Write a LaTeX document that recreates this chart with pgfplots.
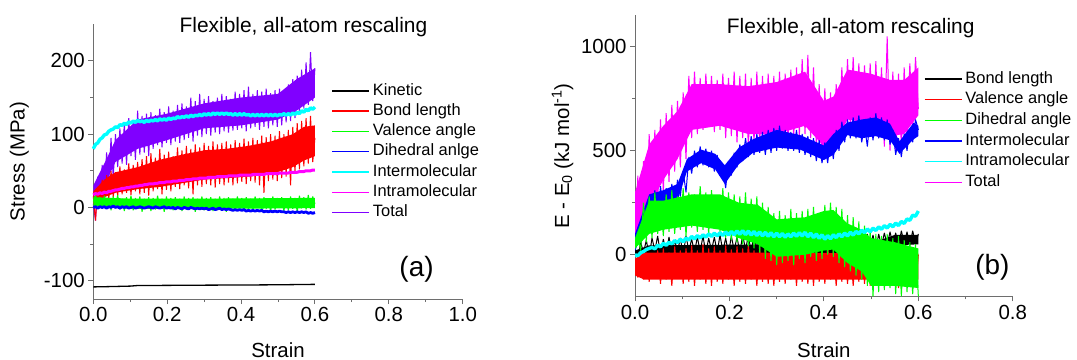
\documentclass[border=0pt]{standalone}
\usepackage{fontspec}
\setmainfont{Liberation Sans}
\usepackage{pgfplots}
\usepackage{pgfplotstable}
\pgfplotsset{compat=1.18}
\definecolor{cpurple}{HTML}{8000FF}
\definecolor{cred}{HTML}{FF0000}
\definecolor{cgreen}{HTML}{00FF00}
\definecolor{cblue}{HTML}{0000FF}
\definecolor{ccyan}{HTML}{00FFFF}
\definecolor{cmag}{HTML}{FF00FF}
\definecolor{axgray}{HTML}{6E6E6E}

% panel (a): x tot bond val dih inter intra
\pgfplotstableread{
x tot bond val dih inter intra
0.000 5 15 8 0 80 17
0.006 -18 -18 18 1 86 19
0.012 42 28 2 -1 88 18
0.018 10 2 14 1 93 20
0.024 58 38 -2 0 95 19
0.030 22 8 16 1 99 21
0.036 75 44 0 -1 100 20
0.042 35 12 13 1 104 22
0.048 95 50 -4 0 106 22
0.054 40 14 15 2 107 23
0.060 100 48 -1 0 110 24
0.066 55 16 17 1 109 24
0.072 108 56 -3 -1 113 25
0.078 60 18 12 1 112 26
0.084 115 52 -5 0 115 26
0.090 58 20 14 1 113 27
0.096 122 60 0 -1 117 27
0.102 70 17 16 0 115 28
0.108 118 58 -4 1 118 28
0.114 65 22 13 -1 116 29
0.120 132 62 -2 0 119 29
0.126 72 18 15 1 117 30
0.132 125 66 -6 0 118 30
0.138 75 20 12 -1 116 31
0.144 128 70 1 0 119 31
0.150 70 16 14 1 117 32
0.156 130 74 -5 0 119 32
0.162 80 22 13 -1 118 32
0.168 126 68 -3 1 120 33
0.174 85 25 16 0 118 33
0.180 135 80 0 -1 121 34
0.186 82 18 12 0 119 34
0.192 130 72 -6 1 121 34
0.198 88 24 15 -1 119 35
0.204 138 76 -2 0 122 35
0.210 85 22 13 -1 120 35
0.216 132 70 -4 0 122 36
0.222 90 28 14 -2 121 36
0.228 140 82 1 0 124 36
0.234 88 25 12 -1 122 37
0.240 142 78 -5 -2 124 37
0.246 92 30 15 0 123 37
0.252 138 84 -3 -1 125 38
0.258 95 26 13 -2 123 38
0.264 150 80 0 0 126 38
0.270 90 18 14 -1 124 39
0.276 145 86 -6 -2 126 39
0.282 98 30 12 -1 125 39
0.288 155 82 -2 -2 127 40
0.294 96 28 15 -1 125 40
0.300 148 88 -4 -2 128 40
0.306 100 32 13 -1 126 40
0.312 152 84 1 -3 128 41
0.318 98 30 14 -2 126 41
0.324 145 90 -5 -1 129 41
0.330 102 27 12 -3 127 41
0.336 150 86 -3 -2 129 42
0.342 100 32 15 -1 127 42
0.348 155 88 0 -3 129 42
0.354 104 30 13 -2 127 42
0.360 152 90 -6 -3 129 42
0.366 102 34 14 -2 127 43
0.372 148 86 -2 -3 128 43
0.378 105 30 12 -4 126 43
0.384 158 92 -5 -3 128 43
0.390 106 33 15 -4 126 43
0.396 155 88 1 -3 128 44
0.402 108 35 13 -4 126 44
0.408 160 94 -4 -3 128 44
0.414 104 32 14 -5 126 44
0.420 165 90 -3 -4 127 44
0.426 108 36 12 -5 125 44
0.432 155 95 -6 -4 127 45
0.438 110 34 15 -5 125 45
0.444 160 92 0 -4 127 45
0.450 106 30 13 -5 125 45
0.456 158 98 -5 -4 127 45
0.462 110 20 14 -6 125 45
0.468 162 96 -2 -5 127 46
0.474 108 36 12 -6 125 46
0.480 156 100 -6 -5 127 46
0.486 112 38 15 -6 125 46
0.492 160 98 -3 -5 127 46
0.498 110 36 13 -6 125 46
0.504 162 104 0 -5 127 47
0.510 112 40 14 -6 126 47
0.516 158 100 -5 -6 128 47
0.522 116 42 12 -7 126 47
0.528 168 106 -4 -6 128 47
0.534 118 30 15 -7 126 48
0.540 175 110 -2 -6 129 48
0.546 122 48 13 -7 127 48
0.552 180 115 -6 -6 130 48
0.558 128 52 16 -7 128 49
0.564 188 118 -1 -6 132 49
0.570 135 56 14 -7 130 49
0.576 198 122 -3 -6 134 50
0.582 140 60 17 -8 132 50
0.588 212 125 -2 -7 136 50
0.594 145 62 15 -8 134 51
0.600 190 95 5 -7 137 51
}\tabA

% panel (a): dense cores of the noisy series, outlined upper edge then lower edge
\pgfplotstableread{
x y
0.000 30
0.030 60
0.060 92
0.120 120
0.200 128
0.300 142
0.400 150
0.500 155
0.550 175
0.600 190
0.600 150
0.550 132
0.500 120
0.400 112
0.300 108
0.200 92
0.120 80
0.060 62
0.030 30
0.000 0
}\coreTotA
\pgfplotstableread{
x y
0.000 22
0.030 38
0.060 48
0.120 55
0.180 65
0.240 72
0.300 78
0.360 80
0.420 84
0.480 90
0.540 100
0.570 110
0.600 112
0.600 70
0.570 64
0.540 55
0.480 45
0.420 42
0.360 40
0.300 38
0.240 33
0.180 28
0.120 25
0.060 20
0.030 14
0.000 5
}\coreBondA
\pgfplotstableread{
x y
0.000 14
0.100 12
0.300 12
0.600 13
0.600 -1
0.300 -2
0.100 -2
0.000 2
}\coreValA

% panel (b): x bond val dih inter intra tot
\pgfplotstableread{
x bond val dih inter intra tot
0.000 20 -40 30 0 0 50
0.006 -20 -110 90 120 -5 380
0.012 60 -20 20 40 10 -30
0.018 10 -120 250 220 15 450
0.024 70 10 60 90 25 150
0.030 -10 -130 280 280 30 580
0.036 80 0 80 160 35 200
0.042 20 -100 300 310 28 600
0.048 90 20 100 180 45 260
0.054 0 -140 250 330 38 650
0.060 75 30 90 210 55 300
0.066 10 -120 290 320 45 680
0.072 85 10 110 230 60 350
0.078 5 -150 310 340 52 720
0.084 70 40 100 240 68 400
0.090 15 -110 280 360 58 740
0.096 80 20 120 280 75 420
0.102 0 -140 320 400 62 780
0.108 90 30 90 300 80 460
0.114 20 -130 300 470 70 860
0.120 75 45 130 390 88 560
0.126 10 -150 290 500 76 880
0.132 85 20 110 420 92 580
0.138 15 -120 330 520 80 850
0.144 90 50 120 430 96 600
0.150 5 -140 300 510 84 870
0.156 80 30 100 420 100 620
0.162 20 -150 310 500 88 860
0.168 85 40 130 400 104 590
0.174 10 -130 280 480 90 840
0.180 95 20 110 380 106 600
0.186 15 -140 320 420 92 870
0.192 80 45 80 320 110 560
0.198 5 -120 300 450 94 850
0.204 90 25 70 380 112 570
0.210 20 -150 290 490 96 880
0.216 85 40 60 420 114 540
0.222 10 -130 280 530 98 860
0.228 95 30 50 450 116 560
0.234 25 -140 300 560 96 870
0.240 90 50 40 470 114 520
0.246 15 -120 270 570 94 850
0.252 100 20 30 480 112 540
0.258 20 -150 280 580 92 880
0.264 85 35 10 490 110 530
0.270 10 -130 250 590 90 860
0.276 95 45 -20 480 108 520
0.282 30 -140 230 600 88 870
0.288 90 20 -30 490 106 540
0.294 20 -150 200 610 86 860
0.300 100 40 -50 500 104 520
0.306 30 -130 210 620 86 880
0.312 95 30 -40 510 102 550
0.318 15 -140 190 600 84 870
0.324 90 45 -30 500 100 540
0.330 30 -120 220 590 86 890
0.336 100 20 -50 500 104 560
0.342 20 -150 200 600 88 900
0.348 95 35 -20 490 106 570
0.354 25 -130 210 580 90 940
0.360 90 40 -40 480 108 580
0.366 15 -140 220 570 86 960
0.372 95 25 -10 470 104 560
0.378 30 -150 230 560 82 900
0.384 85 40 -30 450 100 520
0.390 10 -130 200 550 78 820
0.396 90 30 -20 440 96 480
0.402 20 -140 240 540 74 800
0.408 85 45 0 440 92 460
0.414 5 -120 250 560 76 780
0.420 90 20 -10 460 96 470
0.426 25 -150 230 600 82 820
0.432 95 35 -40 500 100 560
0.438 15 -130 220 640 86 900
0.444 90 40 -60 540 104 600
0.450 30 -140 190 650 90 940
0.456 100 25 -80 560 108 610
0.462 20 -150 180 660 94 950
0.468 95 30 -100 560 112 620
0.474 10 -130 160 670 100 920
0.480 85 45 -120 540 118 600
0.486 25 -140 140 620 106 910
0.492 100 20 -150 520 124 580
0.498 30 -150 120 660 110 920
0.504 95 35 -200 550 128 600
0.510 20 -130 100 680 116 930
0.516 100 25 -180 560 134 560
0.522 40 -140 90 660 122 900
0.528 105 30 -170 550 140 520
0.534 45 -150 100 650 128 1050
0.540 110 20 -160 530 146 500
0.546 50 -140 80 600 134 880
0.552 105 15 -190 480 152 490
0.558 40 -160 90 560 140 870
0.564 115 10 -200 470 160 520
0.570 55 -150 70 580 150 900
0.576 110 20 -180 500 172 560
0.582 45 -140 60 600 165 920
0.588 115 10 -190 540 190 620
0.594 50 -150 50 650 185 950
0.600 100 0 -200 600 210 700
}\tabB

% panel (b): dense cores, upper edge then lower edge
\pgfplotstableread{
x y
0.000 300
0.030 530
0.060 620
0.090 690
0.120 820
0.180 820
0.240 810
0.300 830
0.360 880
0.400 740
0.420 760
0.450 890
0.500 870
0.540 840
0.570 840
0.600 900
0.600 670
0.570 580
0.540 570
0.500 630
0.450 650
0.420 520
0.400 520
0.360 620
0.300 580
0.240 580
0.180 620
0.120 600
0.090 460
0.060 360
0.030 230
0.000 60
}\coreTotB
\pgfplotstableread{
x y
0.000 100
0.030 290
0.060 310
0.090 340
0.110 460
0.140 505
0.170 485
0.190 430
0.220 515
0.250 555
0.300 600
0.350 575
0.400 525
0.420 580
0.450 635
0.480 650
0.510 660
0.540 630
0.560 545
0.590 635
0.600 620
0.600 570
0.590 555
0.560 485
0.540 550
0.510 570
0.480 560
0.450 575
0.420 480
0.400 455
0.350 505
0.300 515
0.250 490
0.220 435
0.190 340
0.170 410
0.140 440
0.110 400
0.090 260
0.060 230
0.030 180
0.000 20
}\coreInterB
\pgfplotstableread{
x y
0.000 -20
0.020 10
0.300 10
0.600 5
0.600 -120
0.300 -120
0.020 -120
0.000 -100
}\coreValB
\pgfplotstableread{
x y
0.000 20
0.030 45
0.300 50
0.500 55
0.550 95
0.600 95
0.600 50
0.550 45
0.500 10
0.300 5
0.030 5
0.000 0
}\coreBondB
\pgfplotstableread{
x y
0.000 80
0.030 260
0.060 260
0.120 290
0.180 290
0.220 250
0.260 240
0.300 170
0.360 180
0.400 210
0.420 215
0.450 150
0.480 120
0.500 80
0.550 60
0.600 30
0.600 -160
0.550 -150
0.500 -150
0.480 -80
0.450 -40
0.420 25
0.400 20
0.360 0
0.300 -10
0.260 50
0.220 80
0.180 120
0.120 140
0.060 120
0.030 100
0.000 30
}\coreDihB

\pgfplotsset{
  myaxis/.style={
    scale only axis,
    axis lines*=left,
    axis line style={axgray, line width=0.9bp},
    every tick/.style={axgray, line width=0.9bp},
    tick align=outside,
    major tick length=5bp,
    minor tick length=3bp,
    ticklabel style={font=\fontsize{20.5}{24}\selectfont},
    label style={font=\fontsize{20.5}{24}\selectfont},
    /pgf/number format/assume math mode=true,
    /pgf/number format/1000 sep={},
    xticklabel style={/pgf/number format/.cd, fixed, fixed zerofill, precision=1},
    legend style={draw=none, fill=none, inner sep=0pt, outer sep=0pt,
      font=\fontsize{16.5}{19}\selectfont, anchor=north west,
      nodes={inner xsep=2bp, inner ysep=0bp, text height=12bp, text depth=3.5bp},
      column sep=1bp},
    legend cell align=left,
    legend image code/.code={\draw[##1, line width=1.4bp] (0bp,0bp) -- (37bp,0bp);},
    every axis plot/.append style={line width=1.0bp, line join=bevel},
    band/.style={draw=none, fill=##1, forget plot},
  }
}

\begin{document}
\begin{tikzpicture}
\useasboundingbox (0,0) rectangle (1077bp,360bp);
% ---------- panel (a)
\begin{axis}[myaxis,
  at={(93.3bp,61bp)}, anchor=south west,
  width=369.4bp, height=274.7bp,
  xmin=0, xmax=1, ymin=-125, ymax=250,
  clip=false,
  xtick={0,0.2,0.4,0.6,0.8,1.0}, minor xtick={0.1,0.3,0.5,0.7,0.9},
  ytick={-100,0,100,200}, minor ytick={-50,50,150},
  xlabel={Strain}, ylabel={Stress (MPa)},
  xlabel style={at={(axis description cs:0.5,-0.186)}, anchor=center},
  ylabel style={at={(axis description cs:-0.200,0.5)}, anchor=center},
  legend style={at={(axis description cs:0.645,0.786)}, row sep=4.8bp},
]
\addplot[band=cpurple] table[x=x, y=y] {\coreTotA};
\addplot[cpurple, forget plot] table[x=x, y=tot] {\tabA};
\addplot[band=cred] table[x=x, y=y] {\coreBondA};
\addplot[cred, forget plot] table[x=x, y=bond] {\tabA};
\addplot[band=cgreen] table[x=x, y=y] {\coreValA};
\addplot[cgreen, forget plot] table[x=x, y=val] {\tabA};
\addplot[cblue, line width=2.8bp, forget plot] table[x=x, y=dih] {\tabA};
\addplot[ccyan, line width=3.4bp, forget plot] table[x=x, y=inter] {\tabA};
\addplot[cmag, line width=3bp, forget plot] table[x=x, y=intra] {\tabA};
\addplot[black, line width=1.3bp, forget plot] coordinates {(0,-108.5)(0.05,-108)(0.1,-107.4)(0.12,-106.6)(0.2,-106.4)(0.3,-106.1)(0.4,-105.9)(0.5,-105.6)(0.6,-105)};
\addlegendimage{black}
\addlegendimage{cred}
\addlegendimage{cgreen}
\addlegendimage{cblue}
\addlegendimage{ccyan}
\addlegendimage{cmag}
\addlegendimage{cpurple}
\legend{Kinetic, Bond length, Valence angle, Dihedral anlge, Intermolecular, Intramolecular, Total}
\node[font=\fontsize{21}{25}\selectfont, anchor=base] at (axis description cs:0.569,0.971) {Flexible, all-atom rescaling};
\node[font=\fontsize{28}{33}\selectfont] at (axis description cs:0.875,0.109) {(a)};
\end{axis}
% ---------- panel (b)
\begin{axis}[myaxis,
  at={(635bp,63.7bp)}, anchor=south west,
  width=377.8bp, height=280.8bp,
  xmin=0, xmax=0.8, ymin=-200, ymax=1150,
  xtick={0,0.2,0.4,0.6,0.8}, minor xtick={0.1,0.3,0.5,0.7},
  ytick={0,500,1000}, minor ytick={250,750},
  xlabel={Strain}, ylabel={E - E\textsubscript{0} (kJ mol\textsuperscript{-1})},
  xlabel style={at={(axis description cs:0.5,-0.191)}, anchor=center},
  ylabel style={at={(axis description cs:-0.192,0.5)}, anchor=center},
  legend style={at={(axis description cs:0.765,0.802)}, row sep=5.2bp},
]
\addplot[band=cmag] table[x=x, y=y] {\coreTotB};
\addplot[cmag, forget plot] table[x=x, y=tot] {\tabB};
\addplot[band=cblue] table[x=x, y=y] {\coreInterB};
\addplot[cblue, forget plot] table[x=x, y=inter] {\tabB};
\addplot[band=black] table[x=x, y=y] {\coreBondB};
\addplot[black, forget plot] table[x=x, y=bond] {\tabB};
\addplot[band=cred] table[x=x, y=y] {\coreValB};
\addplot[cred, forget plot] table[x=x, y=val] {\tabB};
\addplot[band=cgreen] table[x=x, y=y] {\coreDihB};
\addplot[cgreen, forget plot] table[x=x, y=dih] {\tabB};
\addplot[ccyan, line width=3.4bp, forget plot] table[x=x, y=intra] {\tabB};
\addlegendimage{black}
\addlegendimage{cred}
\addlegendimage{cgreen}
\addlegendimage{cblue}
\addlegendimage{ccyan}
\addlegendimage{cmag}
\legend{Bond length, Valence angle, Dihedral angle, Intermolecular, Intramolecular, Total}
\node[font=\fontsize{21}{25}\selectfont, anchor=base] at (axis description cs:0.571,0.937) {Flexible, all-atom rescaling};
\node[font=\fontsize{28}{33}\selectfont] at (axis description cs:0.946,0.102) {(b)};
\end{axis}
\end{tikzpicture}
\end{document}
